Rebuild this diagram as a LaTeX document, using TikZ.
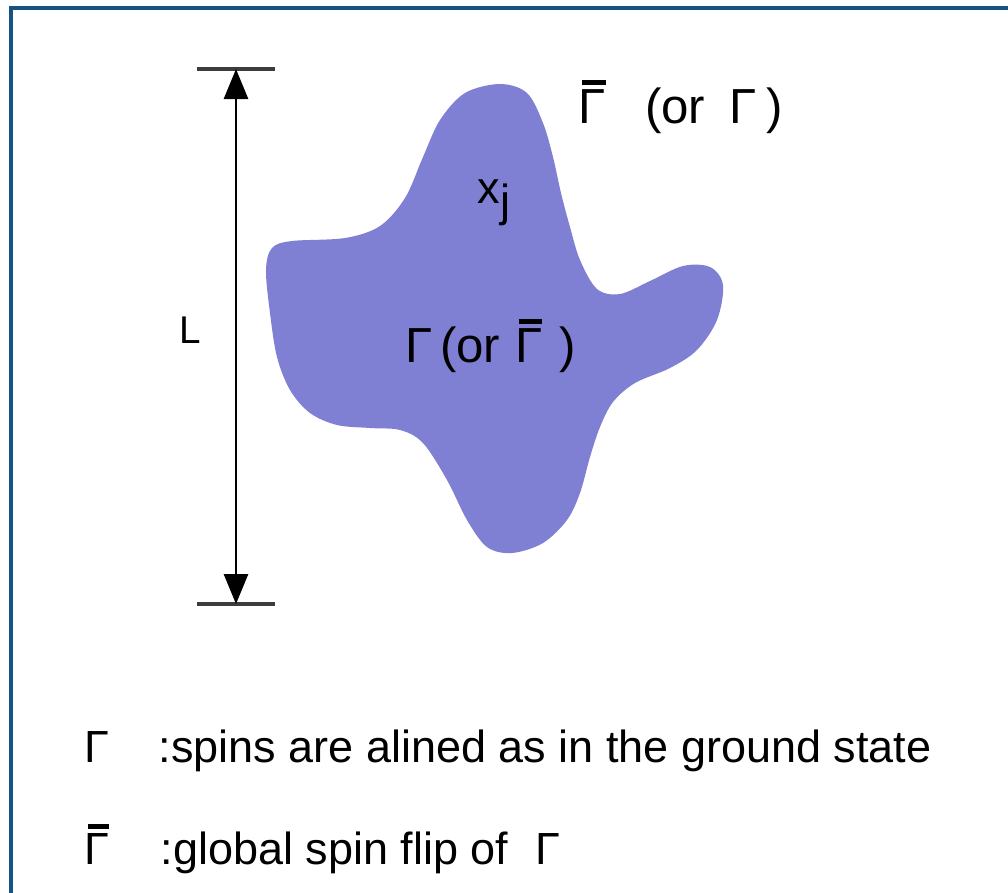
\documentclass[tikz,border=0pt]{standalone}
\usepackage{fontspec}
\setmainfont{Liberation Sans}
\usepackage{xcolor}
\usetikzlibrary{arrows.meta}
\definecolor{frameblue}{RGB}{22,82,130}
\definecolor{blobblue}{RGB}{127,127,212}
\definecolor{tickgray}{RGB}{60,60,60}
\newcommand{\gbar}{\rlap{\hspace{0.07em}\rule[0.78em]{0.48em}{0.1em}}Γ}
\tikzset{
    lbl/.style={
        anchor=base west,
        inner sep=0pt,
        font=\fontsize{12.8}{15}\selectfont
    },
    bigl/.style={
        lbl,
        font=\fontsize{14}{16}\selectfont
    },
    dimline/.style={<->,line width=0.28mm,>={Triangle[length=3mm,width=2.4mm]}},
    endtick/.style={tickgray,line width=0.35mm},
    boxline/.style={frameblue,line width=0.4mm},
    region/.style={fill=blobblue,draw=none}
}

\begin{document}
\begin{tikzpicture}[x=0.1mm,y=-0.1mm]
\useasboundingbox (0,0) rectangle (1008,893);

% frame (top and left edges)
\draw[boxline] (11.5,893) -- (11.5,8) -- (1008,8);

% the domain
\fill[region] plot[smooth cycle,tension=0.55] coordinates {
    (500,84) (527,93) (543,123) (553,157) (561,193) (570,227) (580,260)
    (597,289) (620,294) (650,281) (683,266) (710,267) (723,285) (717,320)
    (697,350) (670,368) (635,383) (613,402) (600,427) (590,457) (580,493)
    (567,520) (543,543) (512,553) (487,547) (467,520) (447,480) (423,443)
    (400,430) (370,428) (337,425) (310,413) (290,390) (277,357) (270,313)
    (266,270) (272,248) (292,241) (345,238) (380,226) (405,198)
    (423,157) (440,120) (465,93)};

% size L
\coordinate (Ltop) at (236,69);
\coordinate (Lbot) at (236,604);
\draw[endtick] ([xshift=-3.9mm]Ltop) -- ([xshift=3.9mm]Ltop);
\draw[endtick] ([xshift=-3.9mm]Lbot) -- ([xshift=3.9mm]Lbot);
\draw[dimline] (Ltop) -- (Lbot);
\node[lbl,font=\fontsize{11}{13}\selectfont] (L) at (179,343) {L};

% labels
\node[lbl] (xj) at (477,203) {x\raisebox{-1.3mm}{j}};
\node[bigl] (inside) at (405,362) {Γ\hspace{0.15em}(or\hspace{0.3em}\gbar\hspace{0.35em})};
\node[bigl] (outside) at (578,123) {\gbar\hspace{0.8em}(or\hspace{0.5em}Γ\hspace{0.2em})};

% legend
\node[lbl] (key1) at (84,762) {Γ};
\node[lbl] (desc1) at (158,762) {:spins are alined as in the ground state};
\node[lbl] (key2) at (84,864) {\gbar};
\node[lbl] (desc2) at (160,864) {:global spin flip of\hspace{0.6em}Γ};

\end{tikzpicture}
\end{document}
